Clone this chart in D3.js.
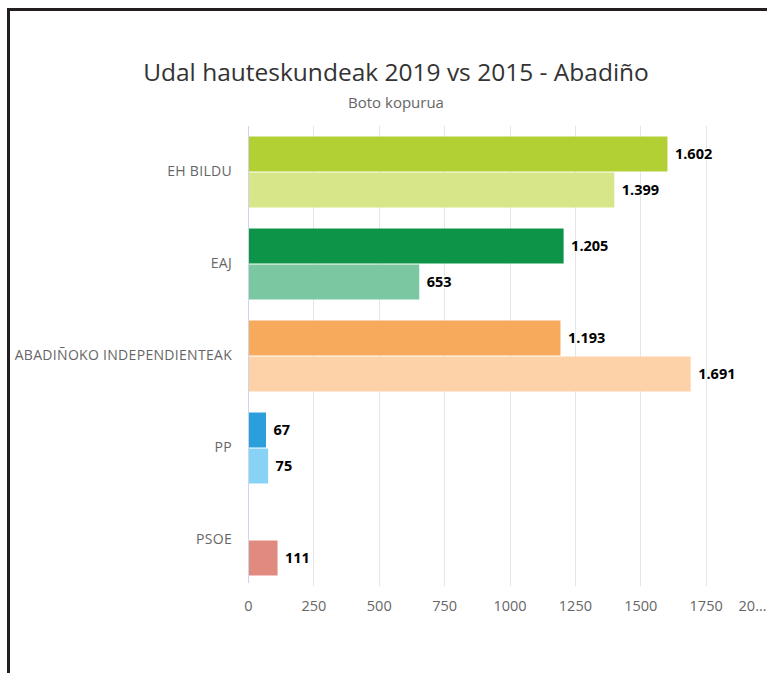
<!DOCTYPE html>
<html>
<head>
<meta charset="utf-8">
<script src="https://cdn.jsdelivr.net/npm/d3@7"></script>
<style>
html,body{margin:0;padding:0;background:#fff;}
svg{display:block;}
text{font-family:"Open Sans","Noto Sans",sans-serif;}
</style>
</head>
<body>
<svg id="chart" width="767" height="673"></svg>
<script>
const categories = ["EH BILDU", "EAJ", "ABADIÑOKO INDEPENDIENTEAK", "PP", "PSOE"];
const seriesNames = ["2019", "2015"];
const values2019 = [1602, 1205, 1193, 67, null];
const values2015 = [1399, 653, 1691, 75, 111];
const colors2019 = ["#b2cf33", "#0d9448", "#f8aa5c", "#2b9fdc", "#e08a80"];
const colors2015 = ["#d7e689", "#7bc7a2", "#fdd2a8", "#88d2f6", "#e08a80"];
const tickValues = [0, 250, 500, 750, 1000, 1250, 1500, 1750, 2000];
const tickLabels = ["0", "250", "500", "750", "1000", "1250", "1500", "1750", "20…"];
const titleText = "Udal hauteskundeak 2019 vs 2015 - Abadiño";
const subtitleText = "Boto kopurua";

const svg = d3.select("#chart");
const W = 767, H = 673;
const plot = {left: 248, top: 126, right: 771, bottom: 586};

// frame
svg.append("path")
  .attr("d", `M8.5,${H} L8.5,9.5 L${W},9.5`)
  .attr("fill", "none").attr("stroke", "#231f20").attr("stroke-width", 3);

// title
svg.append("text").attr("x", 396).attr("y", 81)
  .attr("text-anchor", "middle").attr("font-size", 24.5).attr("fill", "#333")
  .text(titleText);
svg.append("text").attr("x", 396).attr("y", 108)
  .attr("text-anchor", "middle").attr("font-size", 15).attr("fill", "#666")
  .text(subtitleText);

const x = d3.scaleLinear().domain([0, 2000]).range([plot.left, plot.right]);
const y = d3.scaleBand().domain(categories).range([plot.top, plot.bottom]).paddingInner(0).paddingOuter(0);
const inner = d3.scaleBand().domain(seriesNames).range([0, y.bandwidth()]).paddingInner(0.028).paddingOuter(0.292);

// gridlines
const g = svg.append("g");
g.selectAll("line.grid").data(tickValues.slice(1, -1)).enter().append("line")
  .attr("x1", d => Math.round(x(d)) + 0.5).attr("x2", d => Math.round(x(d)) + 0.5)
  .attr("y1", plot.top).attr("y2", plot.bottom)
  .attr("stroke", "#e6e6e6").attr("stroke-width", 1);

// x axis labels
const xAxis = d3.axisBottom(x).tickValues(tickValues).tickSize(0).tickPadding(0)
  .tickFormat((d, i) => tickLabels[i]);
const xa = svg.append("g").attr("transform", `translate(0,${plot.bottom + 15})`).call(xAxis);
xa.select(".domain").remove();
xa.selectAll("text").attr("font-size", 14.5).attr("fill", "#666").attr("font-family", '"Open Sans",sans-serif');
xa.selectAll(".tick").filter(d => d === 2000).select("text").attr("dx", -19);

// y axis labels
const ya = svg.append("g").attr("transform", `translate(${plot.left - 16},0)`)
  .call(d3.axisLeft(y).tickSize(0).tickPadding(0));
ya.select(".domain").remove();
ya.selectAll("text").attr("font-size", 14).attr("letter-spacing", 0.3).attr("fill", "#666").attr("font-family", '"Open Sans",sans-serif').attr("dy", "0.32em");

// bars
const rows = [];
categories.forEach((c, i) => {
  rows.push({cat: c, s: "2019", v: values2019[i], color: colors2019[i]});
  rows.push({cat: c, s: "2015", v: values2015[i], color: colors2015[i]});
});
const data = rows.filter(d => d.v != null);

svg.append("g").selectAll("rect").data(data).enter().append("rect")
  .attr("x", x(0) + 0.5)
  .attr("y", d => y(d.cat) + inner(d.s))
  .attr("width", d => x(d.v) - x(0))
  .attr("height", inner.bandwidth())
  .attr("fill", d => d.color);

// axis line
svg.append("line").attr("x1", plot.left + 0.5).attr("x2", plot.left + 0.5)
  .attr("y1", plot.top).attr("y2", plot.bottom - 3)
  .attr("stroke", "#ccd6eb").attr("stroke-width", 1);

// data labels
const fmt = v => v >= 1000 ? d3.format(",")(v).replace(/,/g, ".") : String(v);
svg.append("g").selectAll("text").data(data).enter().append("text")
  .attr("x", d => x(d.v) + 8)
  .attr("y", d => y(d.cat) + inner(d.s) + inner.bandwidth() / 2)
  .attr("dy", "0.35em")
  .attr("font-size", 14.5).attr("font-weight", "bold").attr("fill", "#000")
  .attr("stroke", "#fff").attr("stroke-width", 2).attr("paint-order", "stroke")
  .text(d => fmt(d.v));
</script>
</body>
</html>
